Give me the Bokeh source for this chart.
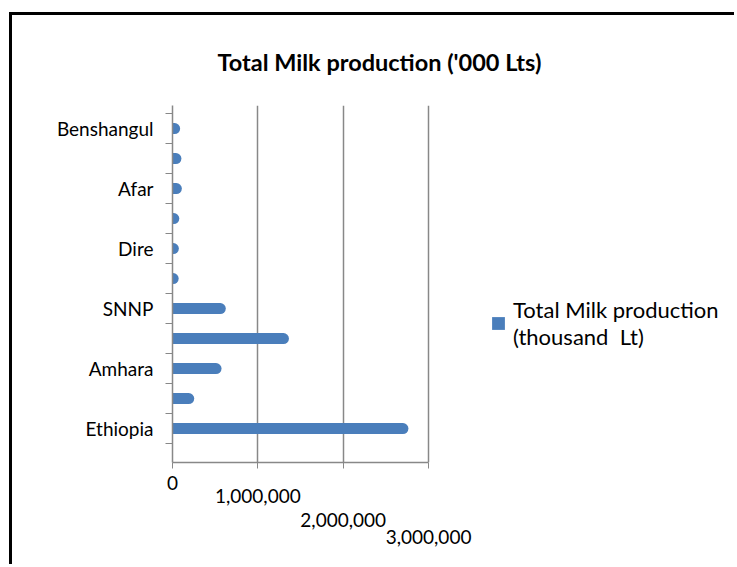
from bokeh.plotting import figure
from bokeh.models import FixedTicker, Legend, LegendItem, Range1d, LinearAxis
from bokeh.embed import file_html
from bokeh.resources import INLINE

# ---- data ----
regions = ["Ethiopia", "Tigray", "Amhara", "Oromia", "SNNP", "Harari",
           "Dire", "Somali", "Afar", "Gambella", "Benshangul"]
milk = [2700000, 190000, 510000, 1300000, 560000, 8000,
        10000, 15000, 45000, 40000, 25000]
x_ticks = [0, 1000000, 2000000, 3000000]
x_tick_labels = ["0", "1,000,000", "2,000,000", "3,000,000"]
title_text = "Total Milk production ('000  Lts)"
series_name = "Total Milk production\n(thousand  Lt)"

FONT = "Lato"
BAR = "#4a7ebb"
GRID = "#888888"

ypos = list(range(len(regions)))

# frame spans to the right edge so the legend can live inside it
p = figure(width=725, height=552, output_backend="svg", toolbar_location=None,
           x_range=Range1d(0, 6620000), y_range=Range1d(-1.13, 10.77),
           min_border_left=160, min_border_right=0, min_border_top=90,
           min_border_bottom=105)
p.styles = {"margin-left": "9px", "margin-top": "12px",
            "border-left": "3px solid #000", "border-top": "3px solid #000"}

p.title.text = title_text
p.title.text_font = FONT
p.title.text_font_size = "23.5px"
p.title.text_font_style = "bold"
p.title.text_color = "#000"
p.title.align = "left"
p.title.offset = 45
p.title.standoff = 59

p.outline_line_color = None

# bars as rounded cylinders
bars = p.hbar(y=ypos, left=0, right=milk, height=0.36, fill_color=BAR,
              line_color=None)
p.segment(x0=[0] * len(regions), y0=ypos, x1=milk, y1=ypos,
          line_color=BAR, line_width=11, line_cap="round")

# x axis: staggered tick labels, one axis per label
labels = dict(zip(x_ticks, x_tick_labels))
ax0 = p.xaxis[0]
ax0.ticker = FixedTicker(ticks=x_ticks)
ax0.bounds = (x_ticks[0], x_ticks[-1])
ax0.major_label_overrides = {t: (labels[t] if i == 0 else "") for i, t in enumerate(x_ticks)}
standoffs = [7, -4, 7, 0]
axes = [ax0]
for t in x_ticks[1:]:
    ax = LinearAxis(ticker=FixedTicker(ticks=[t]))
    ax.major_label_overrides = {t: labels[t]}
    ax.axis_line_color = None
    ax.major_tick_line_color = None
    ax.major_tick_out = 0
    ax.major_tick_in = 0
    p.add_layout(ax, "below")
    axes.append(ax)
for ax, so in zip(axes, standoffs):
    ax.major_label_text_font = FONT
    ax.major_label_text_font_size = "19px"
    ax.major_label_text_color = "#000"
    ax.minor_tick_line_color = None
    ax.major_label_standoff = so
ax0.axis_line_color = GRID
ax0.axis_line_width = 1.5
ax0.major_tick_line_color = GRID
ax0.major_tick_in = 0
ax0.major_tick_out = 6

# y axis
p.yaxis.ticker = FixedTicker(ticks=ypos[::2],
                             minor_ticks=[y - 0.5 for y in ypos] + [ypos[-1] + 0.5])
p.yaxis.major_label_overrides = {i: regions[i] for i in ypos[::2]}
p.yaxis.major_label_text_font = FONT
p.yaxis.major_label_text_font_size = "19px"
p.yaxis.major_label_text_color = "#000"
p.yaxis.axis_line_color = GRID
p.yaxis.axis_line_width = 1.5
p.yaxis.major_tick_line_color = None
p.yaxis.major_tick_out = 0
p.yaxis.minor_tick_line_color = GRID
p.yaxis.minor_tick_in = 0
p.yaxis.minor_tick_out = 7
p.yaxis.major_label_standoff = 12

p.xgrid.ticker = FixedTicker(ticks=x_ticks[1:])
p.xgrid.grid_line_color = GRID
p.xgrid.grid_line_width = 1.5
p.ygrid.visible = False

legend = Legend(items=[LegendItem(label=series_name, renderers=[bars])],
                location=(318, 112), border_line_color=None,
                background_fill_alpha=0, label_text_font=FONT,
                label_text_font_size="22px", label_text_color="#000",
                glyph_width=16, glyph_height=16,
                label_standoff=7, padding=0, label_text_line_height=1.25)
p.add_layout(legend)

open("out.html", "w").write(file_html(p, INLINE))
